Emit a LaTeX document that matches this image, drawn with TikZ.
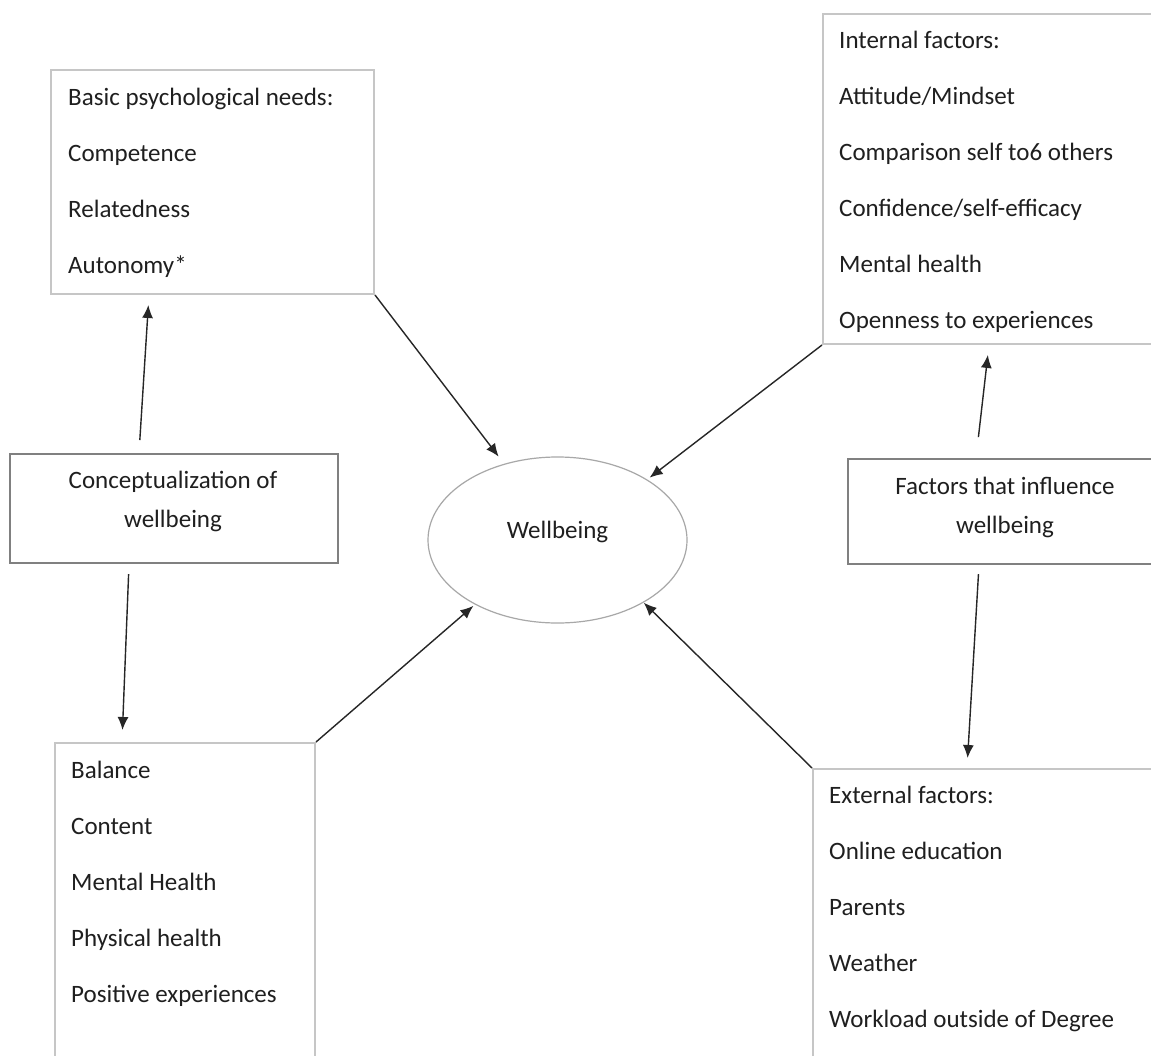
\documentclass[tikz,border=0pt]{standalone}
\usepackage{fontspec}
\setmainfont{Carlito}
\usetikzlibrary{arrows.meta, shapes.geometric}
\definecolor{boxgray}{HTML}{C6C6C6}
\definecolor{framegray}{HTML}{808080}
\definecolor{ringgray}{HTML}{A8A8A8}

\begin{document}
\begin{tikzpicture}[x=1pt, y=-1pt,
  every node/.style={text=black!88, inner sep=0pt, font=\fontsize{25pt}{39pt}\selectfont},
  listbox/.style={draw=boxgray, line width=2pt, anchor=north west},
  titlebox/.style={draw=framegray, line width=2.2pt, anchor=north west},
  listtext/.style={anchor=base west, align=left, font=\fontsize{25pt}{56pt}\selectfont},
  titletext/.style={anchor=base, align=center},
  arr/.style={-{Latex[length=13pt,width=11pt]}, line width=1.4pt, black!85}]
	\clip (0,0) rectangle (1151,1055);
	\fill[white] (0,0) rectangle (1151,1055);
	\node[listbox, minimum width=323pt, minimum height=224pt] (needs) at (50,69) {};
	\node[listtext] (needstxt) at (68,273) {Basic psychological needs:\\Competence\\Relatedness\\Autonomy*};
	\node[listbox, minimum width=343pt, minimum height=330pt] (inner) at (822,13) {};
	\node[listtext] (innertxt) at (839,328) {Internal factors:\\Attitude/Mindset\\Comparison self to6 others\\Confidence/self-efficacy\\Mental health\\Openness to experiences};
	\node[titlebox, minimum width=328pt, minimum height=109pt] (concept) at (9,453) {};
	\node[titletext] (concepttxt) at (173,527) {Conceptualization of\\wellbeing};
	\node[titlebox, minimum width=316pt, minimum height=105pt] (factors) at (847,458) {};
	\node[titletext] (factorstxt) at (1005,533) {Factors that influence\\wellbeing};
	\node[listbox, minimum width=260pt, minimum height=400pt] (aspects) at (54,742) {};
	\node[listtext] (aspectstxt) at (71,1002) {Balance\\Content\\Mental Health\\Physical health\\Positive experiences};
	\node[listbox, minimum width=400pt, minimum height=400pt] (outer) at (812,768) {};
	\node[listtext] (outertxt) at (829,1027) {External factors:\\Online education\\Parents\\Weather\\Workload outside of Degree};
	\node[draw=ringgray, line width=1.2pt, ellipse, minimum width=259pt, minimum height=166pt] (wb) at (557.5,540) {};
	\node[anchor=base] (wbtxt) at (557.5,538) {Wellbeing};
	\draw[arr, shorten <=13pt, shorten >=10pt] ([xshift=130pt]concept.north west) -- ([xshift=99pt]needs.south west);
	\draw[arr, shorten <=10pt, shorten >=12pt] ([xshift=120pt]concept.south west) -- ([xshift=68pt]aspects.north west);
	\draw[arr, shorten <=21pt, shorten >=10pt] ([xshift=129pt]factors.north west) -- ([xshift=167pt]inner.south west);
	\draw[arr, shorten <=9pt, shorten >=10pt] ([xshift=132pt]factors.south west) -- ([xshift=155pt]outer.north west);
	\draw[arr, shorten >=9pt] (needs.south east) -- (wb.125);
	\draw[arr, shorten >=3pt] (inner.south west) -- (wb.34);
	\draw[arr, shorten >=2pt] (aspects.north east) -- (wb.218);
	\draw[arr] (outer.north west) -- (wb.324);
\end{tikzpicture}
\end{document}
